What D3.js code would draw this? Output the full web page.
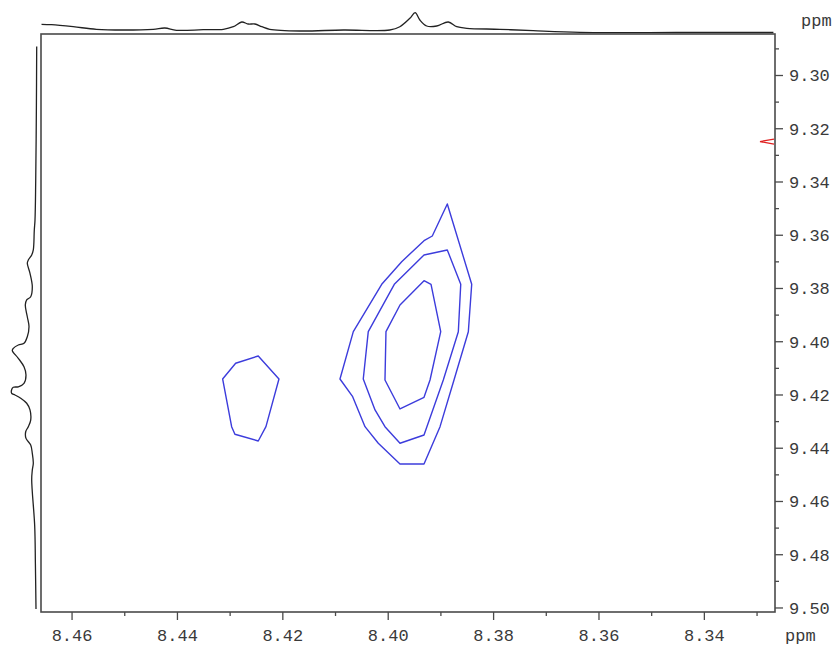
<!DOCTYPE html>
<html>
<head>
<meta charset="utf-8">
<script src="https://cdn.jsdelivr.net/npm/d3@7"></script>
<style>
  html, body { margin: 0; padding: 0; background: #fff; }
  svg { display: block; }
  .tick text, .unit { font-family: "Liberation Mono", "DejaVu Sans Mono", monospace; font-size: 17px; fill: #3a3a3a; }
</style>
</head>
<body>
<svg id="chart" width="838" height="645"></svg>
<script>
// F2 (horizontal) and F1 (vertical) chemical shift windows, ppm
const f2Range = [8.4658, 8.3265];
const f1Range = [9.2846, 9.5017];

const f2MajorTicks = [8.46, 8.44, 8.42, 8.40, 8.38, 8.36, 8.34];
const f2MinorTicks = [8.45, 8.43, 8.41, 8.39, 8.37, 8.35, 8.33];
const f1MajorTicks = [9.30, 9.32, 9.34, 9.36, 9.38, 9.40, 9.42, 9.44, 9.46, 9.48, 9.50];
const f1MinorTicks = [9.29, 9.31, 9.33, 9.35, 9.37, 9.39, 9.41, 9.43, 9.45, 9.47, 9.49];

// F2 projection: shift (ppm) and relative intensity
const topShift = [8.4657, 8.4638, 8.4597, 8.4553, 8.4502, 8.4445, 8.4423, 8.4401, 8.4350, 8.4312,
  8.4293, 8.4277, 8.4265, 8.4252, 8.4239, 8.4224, 8.4167, 8.4084, 8.3996, 8.3977,
  8.3958, 8.3948, 8.3939, 8.3926, 8.3907, 8.3885, 8.3869, 8.3850, 8.3787, 8.3724,
  8.3635, 8.3445, 8.3268];
const topIntensity = [43.5, 41.5, 31.5, 18.5, 15, 18.5, 25, 13.5, 16.5, 18.5,
  31.5, 55, 45, 45, 31.5, 18.5, 10, 15, 15, 31.5,
  73.5, 101.5, 65, 35, 35, 55, 31.5, 23.5, 18.5, 11.5,
  3.5, 2.5, 2.5];

// F1 projection: shift (ppm) and relative intensity
const leftShift = [9.2893, 9.3115, 9.3402, 9.3545, 9.3582, 9.3657, 9.3676, 9.3695, 9.3707, 9.3745,
  9.3795, 9.3833, 9.3845, 9.3864, 9.3908, 9.3945, 9.3983, 9.4008, 9.4014, 9.4027,
  9.4035, 9.4064, 9.4096, 9.4127, 9.4158, 9.4171, 9.4173, 9.4181, 9.4196, 9.4202,
  9.4214, 9.4233, 9.4258, 9.4296, 9.4321, 9.4340, 9.4365, 9.4390, 9.4421, 9.4458,
  9.4484, 9.4521, 9.4694, 9.4837, 9.5006];
const leftIntensity = [1.2, 2.4, 5.2, 8, 10.8, 14.8, 21.2, 34.8, 38.8, 28,
  18.8, 25.2, 41.2, 46.8, 38.8, 32, 38.8, 52, 74.8, 94.8,
  98.8, 74.8, 52, 44, 52, 74.8, 94.8, 101.2, 101.2, 88,
  65.2, 41.2, 28, 25.2, 34.8, 45.2, 44, 25.2, 18.8, 14.8,
  18.8, 21.2, 9.2, 6.4, 4];

// Cross-peak contour levels, as closed rings of [F2, F1] ppm
const contourOuter = [[8.38869, 9.34845], [8.38406, 9.37861], [8.38470, 9.39641], [8.38742, 9.41455],
  [8.39007, 9.43209], [8.39311, 9.44610], [8.39767, 9.44610], [8.40179, 9.43833],
  [8.40431, 9.43209], [8.40665, 9.42083], [8.40906, 9.41418], [8.40653, 9.39641],
  [8.40114, 9.37861], [8.39735, 9.37012], [8.39311, 9.36223], [8.39154, 9.36047]];
const contourMiddle = [[8.39311, 9.36761], [8.38869, 9.36573], [8.38614, 9.37861], [8.38660, 9.39641],
  [8.38945, 9.41455], [8.39311, 9.43521], [8.39767, 9.43833], [8.40052, 9.43209],
  [8.40241, 9.42582], [8.40464, 9.41418], [8.40369, 9.39641], [8.39875, 9.37861]];
const contourInner = [[8.39311, 9.37726], [8.39178, 9.37861], [8.38994, 9.39641], [8.39197, 9.41455],
  [8.39311, 9.42105], [8.39767, 9.42545], [8.40052, 9.41455], [8.40033, 9.39641],
  [8.39767, 9.38638]];
const contourSmall = [[8.43133, 9.41418], [8.42886, 9.40828], [8.42457, 9.40554], [8.42064, 9.41418],
  [8.42311, 9.43209], [8.42457, 9.43746], [8.42900, 9.43495], [8.42962, 9.43209]];
const contours = [contourOuter, contourMiddle, contourInner, contourSmall];

// Reference marker on the F1 axis
const f1Marker = 9.325;

const svg = d3.select("#chart");
const plot = { left: 41, top: 34, right: 775, bottom: 612 };

const x = d3.scaleLinear().domain(f2Range).range([plot.left, plot.right]);
const y = d3.scaleLinear().domain(f1Range).range([plot.top, plot.bottom]);
const topScale = d3.scaleLinear().domain([0, 100]).range([33, 13]);
const leftScale = d3.scaleLinear().domain([0, 100]).range([37, 12]);

// Projections
const topLine = d3.line()
  .x((d, i) => x(topShift[i]))
  .y((d, i) => topScale(topIntensity[i]))
  .curve(d3.curveCatmullRom.alpha(0.5));
svg.append("path")
  .attr("d", topLine(topShift))
  .attr("fill", "none").attr("stroke", "#222").attr("stroke-width", 1.3);

const leftLine = d3.line()
  .x((d, i) => leftScale(leftIntensity[i]))
  .y((d, i) => y(leftShift[i]))
  .curve(d3.curveCatmullRom.alpha(0.5));
svg.append("path")
  .attr("d", leftLine(leftShift))
  .attr("fill", "none").attr("stroke", "#222").attr("stroke-width", 1.3);

// Contours
const ring = d3.line().x(d => x(d[0])).y(d => y(d[1])).curve(d3.curveLinearClosed);
svg.append("g").selectAll("path").data(contours).join("path")
  .attr("d", ring)
  .attr("fill", "none")
  .attr("stroke", "#3c3cdc")
  .attr("stroke-width", 1.4)
  .attr("stroke-linejoin", "round");

// Frame
svg.append("rect")
  .attr("x", plot.left).attr("y", plot.top)
  .attr("width", plot.right - plot.left).attr("height", plot.bottom - plot.top)
  .attr("fill", "none").attr("stroke", "#4a4a4a").attr("stroke-width", 1.6);

// Bottom axis (F2)
const styleAxis = g => {
  g.select(".domain").remove();
  g.selectAll(".tick line").attr("stroke", "#4a4a4a").attr("stroke-width", 1.3);
};
svg.append("g").attr("transform", `translate(0,${plot.bottom})`)
  .call(d3.axisBottom(x).tickValues(f2MinorTicks).tickSize(4).tickFormat(""))
  .call(styleAxis);
svg.append("g").attr("transform", `translate(0,${plot.bottom})`)
  .call(d3.axisBottom(x).tickValues(f2MajorTicks).tickSize(8).tickFormat(d3.format(".2f")))
  .call(styleAxis)
  .call(g => g.selectAll(".tick text").attr("y", 29).attr("dy", 0));

// Right axis (F1)
svg.append("g").attr("transform", `translate(${plot.right},0)`)
  .call(d3.axisRight(y).tickValues(f1MinorTicks).tickSize(4).tickFormat(""))
  .call(styleAxis);
svg.append("g").attr("transform", `translate(${plot.right},0)`)
  .call(d3.axisRight(y).tickValues(f1MajorTicks).tickSize(8).tickFormat(d3.format(".2f")))
  .call(styleAxis)
  .call(g => g.selectAll(".tick text").attr("x", 14).attr("dy", "0.35em"));

// Units
svg.append("text").attr("class", "unit").attr("x", 785).attr("y", 641).text("ppm");
svg.append("text").attr("class", "unit").attr("x", 801).attr("y", 26).text("ppm");

// Marker
const my = y(f1Marker);
svg.append("path")
  .attr("d", `M${plot.right - 1},${my - 2.5}L${plot.right - 15},${my}L${plot.right - 1},${my + 2.5}`)
  .attr("fill", "none").attr("stroke", "#e02020").attr("stroke-width", 1.2);
</script>
</body>
</html>
